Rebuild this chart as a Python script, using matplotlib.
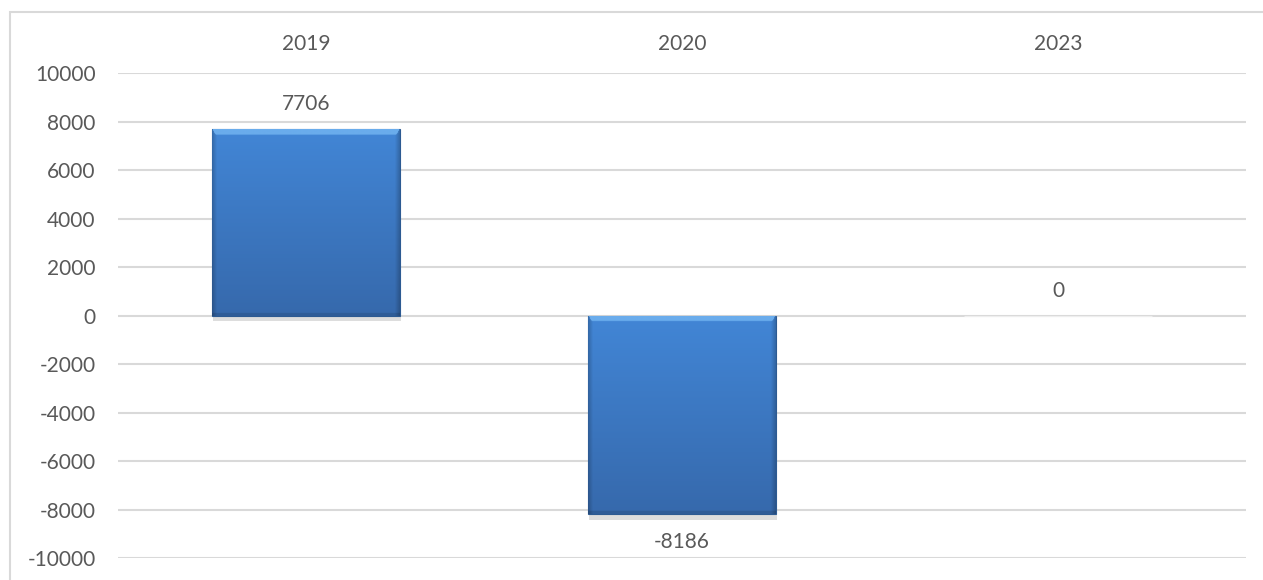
import numpy as np
import matplotlib.pyplot as plt
import matplotlib.patheffects as pe
from matplotlib.patches import Rectangle

# Chart data
years = ['2019', '2020', '2023']
values = [7706, -8186, 0]
y_ticks = [-10000, -8000, -6000, -4000, -2000, 0, 2000, 4000, 6000, 8000, 10000]

text_color = '#595959'
grid_color = '#D9D9D9'

plt.rcParams['font.family'] = ['Lato', 'DejaVu Sans']

fig = plt.figure(figsize=(12.63, 5.80), dpi=100)
ax = fig.add_axes([118 / 1263, 1 - 558 / 580, (1246 - 118) / 1263, (558 - 73) / 580])

# Light border round the chart area (only top and left show in the reference)
fig.patches.append(Rectangle((10 / 1263, -0.1), 1.2, 1 - 12 / 580 + 0.1,
                             transform=fig.transFigure, fill=False,
                             edgecolor=grid_color, linewidth=1.5))

x = np.arange(len(years))
width = 0.5

ax.set_yticks(y_ticks)
ax.set_yticklabels([str(t) for t in y_ticks])
ax.yaxis.grid(True, color=grid_color, linewidth=1.5)
ax.set_axisbelow(True)
for s in ax.spines.values():
    s.set_visible(False)
ax.tick_params(axis='y', length=0, labelsize=15, labelcolor=text_color, pad=16)

ax.xaxis.tick_top()
ax.set_xticks(x)
ax.set_xticklabels(years)
ax.tick_params(axis='x', length=0, labelsize=15, labelcolor=text_color, pad=14)

# Bevelled blue gradient image used to fill each bar
ny, nx = 300, 200
yy = np.linspace(0, 1, ny)[:, None]   # 0 = top, 1 = bottom
xx = np.linspace(0, 1, nx)[None, :]
top = np.array([0x42, 0x86, 0xD6]) / 255
bot = np.array([0x36, 0x69, 0xAC]) / 255
img = top * (1 - yy[..., None]) + bot * yy[..., None]
img = np.broadcast_to(img, (ny, nx, 3)).copy()
edge = np.minimum(xx, 1 - xx)
side = np.clip(edge / 0.025, 0, 1)[..., None]
img = img * (0.8 + 0.2 * side)
top_band = (yy < 0.03) & (edge > yy * 0.6)
img[np.broadcast_to(top_band, (ny, nx))] = np.array([0x6A, 0xAC, 0xEC]) / 255
bot_band = (yy > 0.985)
img[np.broadcast_to(bot_band, (ny, nx))] *= 0.88

shadow = [pe.SimplePatchShadow(offset=(1, -4), shadow_rgbFace='#909090', alpha=0.3), pe.Normal()]
bars = ax.bar(x, values, width, color='none', edgecolor='#2C5A92', linewidth=0.8,
              path_effects=shadow, zorder=3)
for b, v in zip(bars, values):
    if v == 0:
        b.set_edgecolor('#EEEEEE')
        continue
    x0 = b.get_x()
    ext = (x0, x0 + b.get_width(), min(0, v), max(0, v))
    art = ax.imshow(img[::-1], extent=ext, origin='lower', aspect='auto', zorder=3.5,
                    interpolation='bilinear')
    art.set_clip_path(b)

ax.set_xlim(-0.5, len(years) - 0.5)
ax.set_ylim(-10000, 10000)

# Value labels
for xi, v in zip(x, values):
    off = 25 if v >= 0 else -28
    ax.annotate(str(v), (xi, v), xytext=(0, off * 72 / 100), textcoords='offset points',
                ha='center', va='center', fontsize=15, color=text_color, zorder=5)

fig.savefig('out.png', dpi=100)
